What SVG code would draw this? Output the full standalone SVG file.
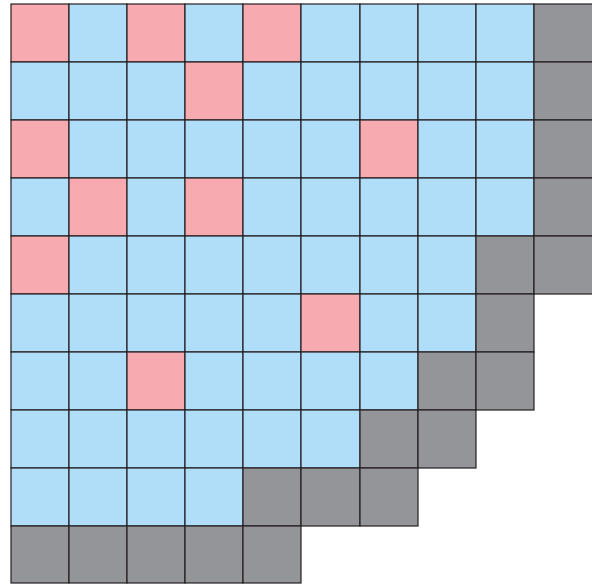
<svg xmlns="http://www.w3.org/2000/svg" width="592" height="585" viewBox="0 0 592 585">
<style>
rect{stroke:#231f20;stroke-width:1.2}
rect.bg{stroke:none;fill:#fff}
.p{fill:#f7abb1}
.b{fill:#b0ddf7}
.g{fill:#939598}
</style>
<rect class="bg" width="592" height="585"/>
<g id="grid">
<g id="r0">
<rect class="p" x="11" y="4" width="58" height="58"/>
<rect class="b" x="69" y="4" width="58" height="58"/>
<rect class="p" x="127" y="4" width="58" height="58"/>
<rect class="b" x="185" y="4" width="58" height="58"/>
<rect class="p" x="243" y="4" width="58" height="58"/>
<rect class="b" x="301" y="4" width="59" height="58"/>
<rect class="b" x="360" y="4" width="58" height="58"/>
<rect class="b" x="418" y="4" width="58" height="58"/>
<rect class="b" x="476" y="4" width="58" height="58"/>
<rect class="g" x="534" y="4" width="60" height="58"/>
</g>
<g id="r1">
<rect class="b" x="11" y="62" width="58" height="58"/>
<rect class="b" x="69" y="62" width="58" height="58"/>
<rect class="b" x="127" y="62" width="58" height="58"/>
<rect class="p" x="185" y="62" width="58" height="58"/>
<rect class="b" x="243" y="62" width="58" height="58"/>
<rect class="b" x="301" y="62" width="59" height="58"/>
<rect class="b" x="360" y="62" width="58" height="58"/>
<rect class="b" x="418" y="62" width="58" height="58"/>
<rect class="b" x="476" y="62" width="58" height="58"/>
<rect class="g" x="534" y="62" width="60" height="58"/>
</g>
<g id="r2">
<rect class="p" x="11" y="120" width="58" height="58"/>
<rect class="b" x="69" y="120" width="58" height="58"/>
<rect class="b" x="127" y="120" width="58" height="58"/>
<rect class="b" x="185" y="120" width="58" height="58"/>
<rect class="b" x="243" y="120" width="58" height="58"/>
<rect class="b" x="301" y="120" width="59" height="58"/>
<rect class="p" x="360" y="120" width="58" height="58"/>
<rect class="b" x="418" y="120" width="58" height="58"/>
<rect class="b" x="476" y="120" width="58" height="58"/>
<rect class="g" x="534" y="120" width="60" height="58"/>
</g>
<g id="r3">
<rect class="b" x="11" y="178" width="58" height="58"/>
<rect class="p" x="69" y="178" width="58" height="58"/>
<rect class="b" x="127" y="178" width="58" height="58"/>
<rect class="p" x="185" y="178" width="58" height="58"/>
<rect class="b" x="243" y="178" width="58" height="58"/>
<rect class="b" x="301" y="178" width="59" height="58"/>
<rect class="b" x="360" y="178" width="58" height="58"/>
<rect class="b" x="418" y="178" width="58" height="58"/>
<rect class="b" x="476" y="178" width="58" height="58"/>
<rect class="g" x="534" y="178" width="60" height="58"/>
</g>
<g id="r4">
<rect class="p" x="11" y="236" width="58" height="58"/>
<rect class="b" x="69" y="236" width="58" height="58"/>
<rect class="b" x="127" y="236" width="58" height="58"/>
<rect class="b" x="185" y="236" width="58" height="58"/>
<rect class="b" x="243" y="236" width="58" height="58"/>
<rect class="b" x="301" y="236" width="59" height="58"/>
<rect class="b" x="360" y="236" width="58" height="58"/>
<rect class="b" x="418" y="236" width="58" height="58"/>
<rect class="g" x="476" y="236" width="58" height="58"/>
<rect class="g" x="534" y="236" width="60" height="58"/>
</g>
<g id="r5">
<rect class="b" x="11" y="294" width="58" height="58"/>
<rect class="b" x="69" y="294" width="58" height="58"/>
<rect class="b" x="127" y="294" width="58" height="58"/>
<rect class="b" x="185" y="294" width="58" height="58"/>
<rect class="b" x="243" y="294" width="58" height="58"/>
<rect class="p" x="301" y="294" width="59" height="58"/>
<rect class="b" x="360" y="294" width="58" height="58"/>
<rect class="b" x="418" y="294" width="58" height="58"/>
<rect class="g" x="476" y="294" width="58" height="58"/>
</g>
<g id="r6">
<rect class="b" x="11" y="352" width="58" height="58"/>
<rect class="b" x="69" y="352" width="58" height="58"/>
<rect class="p" x="127" y="352" width="58" height="58"/>
<rect class="b" x="185" y="352" width="58" height="58"/>
<rect class="b" x="243" y="352" width="58" height="58"/>
<rect class="b" x="301" y="352" width="59" height="58"/>
<rect class="b" x="360" y="352" width="58" height="58"/>
<rect class="g" x="418" y="352" width="58" height="58"/>
<rect class="g" x="476" y="352" width="58" height="58"/>
</g>
<g id="r7">
<rect class="b" x="11" y="410" width="58" height="58"/>
<rect class="b" x="69" y="410" width="58" height="58"/>
<rect class="b" x="127" y="410" width="58" height="58"/>
<rect class="b" x="185" y="410" width="58" height="58"/>
<rect class="b" x="243" y="410" width="58" height="58"/>
<rect class="b" x="301" y="410" width="59" height="58"/>
<rect class="g" x="360" y="410" width="58" height="58"/>
<rect class="g" x="418" y="410" width="58" height="58"/>
</g>
<g id="r8">
<rect class="b" x="11" y="468" width="58" height="58"/>
<rect class="b" x="69" y="468" width="58" height="58"/>
<rect class="b" x="127" y="468" width="58" height="58"/>
<rect class="b" x="185" y="468" width="58" height="58"/>
<rect class="g" x="243" y="468" width="58" height="58"/>
<rect class="g" x="301" y="468" width="59" height="58"/>
<rect class="g" x="360" y="468" width="58" height="58"/>
</g>
<g id="r9">
<rect class="g" x="11" y="526" width="58" height="57"/>
<rect class="g" x="69" y="526" width="58" height="57"/>
<rect class="g" x="127" y="526" width="58" height="57"/>
<rect class="g" x="185" y="526" width="58" height="57"/>
<rect class="g" x="243" y="526" width="58" height="57"/>
</g>
</g>
<g id="connectors"></g>
</svg>
